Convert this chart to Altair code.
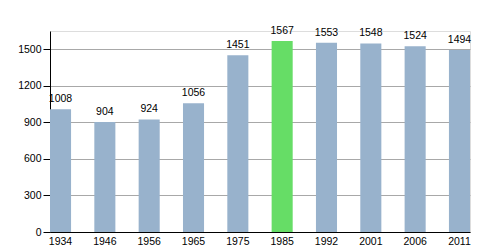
import altair as alt
import pandas as pd

years = ["1934", "1946", "1956", "1965", "1975", "1985", "1992", "2001", "2006", "2011"]
population = [1008, 904, 924, 1056, 1451, 1567, 1553, 1548, 1524, 1494]
highlight = [False, False, False, False, False, True, False, False, False, False]

df = pd.DataFrame({"year": years, "pop": population, "hl": highlight})

FONT = "Liberation Sans"
minor_vals = list(range(0, 1651, 75))

x = alt.X("year:N", sort=years, title=None,
          scale=alt.Scale(paddingInner=0.525, paddingOuter=0),
          axis=alt.Axis(labelAngle=0, ticks=False, domainColor="black",
                        labelColor="black", labelFont=FONT, labelFontSize=10.5,
                        labelPadding=4, grid=False))
y = alt.Y("pop:Q", title=None,
          scale=alt.Scale(domain=[0, 1650], nice=False),
          axis=alt.Axis(values=minor_vals, format="d",
                        labelExpr="datum.value % 300 === 0 ? datum.label : ''",
                        tickSize={"condition": {"test": "datum.value % 300 === 0", "value": 7}, "value": 4},
                        gridColor={"condition": {"test": "datum.value % 300 === 0", "value": "#a8a8a8"}, "value": "#e2e2e2"},
                        grid=True, domainColor="black", tickColor="black",
                        labelColor="black", labelFont=FONT, labelFontSize=10.5,
                        labelPadding=2, domain=True))

bars = alt.Chart(df).mark_bar().encode(
    x=x, y=y,
    color=alt.Color("hl:N", scale=alt.Scale(domain=[False, True], range=["#98b2cc", "#66dd66"]), legend=None),
)
labels = alt.Chart(df).mark_text(baseline="bottom", dy=-5, font=FONT, fontSize=10.5, color="black").encode(
    x=alt.X("year:N", sort=years), y=alt.Y("pop:Q"), text=alt.Text("pop:Q", format="d")
)

chart = (bars + labels).properties(
    width=420, height=201,
    autosize=alt.AutoSizeParams(type="none"),
    padding={"left": 50, "top": 31, "right": 30, "bottom": 18},
).configure_view(stroke=None).configure(background="white")

chart.save("out.html", embed_options={"renderer": "svg", "actions": False})
